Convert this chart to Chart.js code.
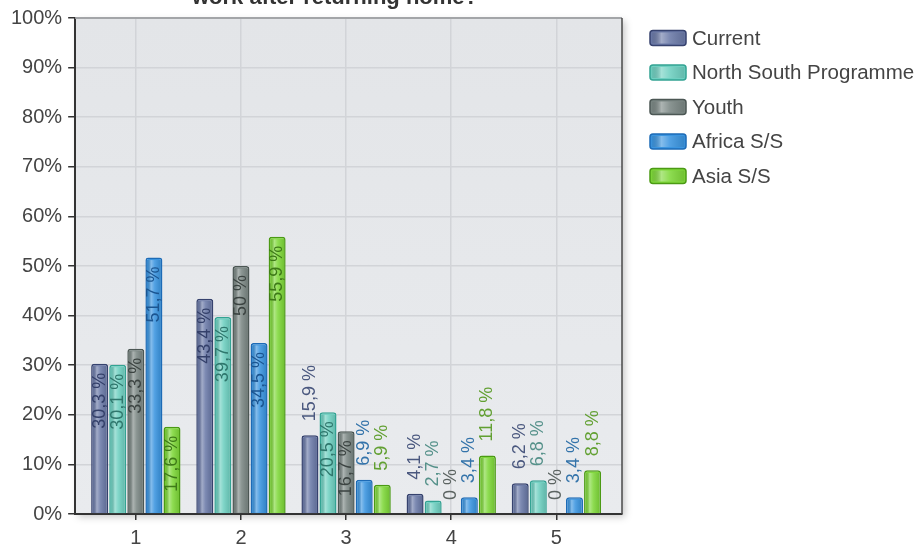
<!DOCTYPE html>
<html>
<head>
<meta charset="utf-8">
<script src="https://cdn.jsdelivr.net/npm/chart.js@4.4.1/dist/chart.umd.min.js"></script>
<style>
  html, body { margin: 0; padding: 0; background: #fff; }
  #wrap { width: 921px; height: 552px; position: relative; }
</style>
</head>
<body>
<div id="wrap"><canvas id="myChart"></canvas></div>
<script>
const categories = [1, 2, 3, 4, 5];
const seriesNames = ["Current", "North South Programme", "Youth", "Africa S/S", "Asia S/S"];
const current = [30.3, 43.4, 15.9, 4.1, 6.2];
const northSouth = [30.1, 39.7, 20.5, 2.7, 6.8];
const youth = [33.3, 50, 16.7, 0, 0];
const africa = [51.7, 34.5, 6.9, 3.4, 3.4];
const asia = [17.6, 55.9, 5.9, 11.8, 8.8];
const titleText = "work after returning home?";

const fills = ["#6b7aa8", "#6fd0c1", "#7b8784", "#3b95e0", "#7fd83a"];
const borders = ["#36426e", "#33a393", "#4c5754", "#1d6bb6", "#4b9a14"];
const labelColors = ["#4a587f", "#55918a", "#5c6462", "#3373aa", "#62a032"];
const insideLabelColors = ["#34406a", "#2f776d", "#3c4442", "#1b5591", "#3e7a18"];

const FONT = "'Liberation Sans', Arial, sans-serif";

function fmt(v) {
    return String(v).replace(".", ",") + " %";
}

// plot background with a soft drop shadow, plus top/right frame lines
const plotFrame = {
    id: "plotFrame",
    beforeDraw(chart) {
        const { ctx, chartArea: a } = chart;
        ctx.save();
        ctx.shadowColor = "rgba(0,0,0,0.22)";
        ctx.shadowBlur = 7;
        ctx.shadowOffsetX = 3;
        ctx.shadowOffsetY = 3;
        const g = ctx.createLinearGradient(0, a.top, 0, a.bottom);
        g.addColorStop(0, "#e3e5e8");
        g.addColorStop(1, "#e9ebee");
        ctx.fillStyle = g;
        ctx.fillRect(a.left, a.top, a.right - a.left, a.bottom - a.top);
        ctx.restore();
    },
    beforeDatasetsDraw(chart) {
        const { ctx, chartArea: a } = chart;
        ctx.save();
        ctx.strokeStyle = "#a3a5a8";
        ctx.lineWidth = 2;
        ctx.beginPath();
        ctx.moveTo(a.left, a.top);
        ctx.lineTo(a.right, a.top);
        ctx.stroke();
        ctx.strokeStyle = "#4a4a4a";
        ctx.lineWidth = 1.5;
        ctx.beginPath();
        ctx.moveTo(a.right, a.top);
        ctx.lineTo(a.right, a.bottom);
        ctx.stroke();
        ctx.restore();
    }
};

function shine(ctx, left, top, w, h) {
    const g = ctx.createLinearGradient(left, 0, left + w, 0);
    g.addColorStop(0, "rgba(0,0,0,0.06)");
    g.addColorStop(0.3, "rgba(255,255,255,0.38)");
    g.addColorStop(0.55, "rgba(255,255,255,0.12)");
    g.addColorStop(1, "rgba(0,0,0,0.10)");
    ctx.fillStyle = g;
    ctx.fillRect(left, top, w, h);
}

// cylinder-like shading on bars and rotated value labels
const barDecor = {
    id: "barDecor",
    afterDatasetsDraw(chart) {
        const { ctx } = chart;
        ctx.save();
        chart.data.datasets.forEach((ds, i) => {
            chart.getDatasetMeta(i).data.forEach((bar, j) => {
                const h = bar.base - bar.y;
                if (h > 4) shine(ctx, bar.x - bar.width / 2 + 1.5, bar.y + 2.5, bar.width - 3, h - 3);
            });
        });
        ctx.font = "18px " + FONT;
        ctx.textBaseline = "middle";
        chart.data.datasets.forEach((ds, i) => {
            chart.getDatasetMeta(i).data.forEach((bar, j) => {
                const txt = fmt(ds.data[j]);
                const tw = ctx.measureText(txt).width;
                const h = bar.base - bar.y;
                ctx.save();
                ctx.translate(bar.x, bar.y);
                ctx.rotate(-Math.PI / 2);
                if (h > tw + 25) {
                    ctx.fillStyle = insideLabelColors[i];
                    ctx.textAlign = "right";
                    ctx.fillText(txt, -9, 0);
                } else {
                    ctx.fillStyle = labelColors[i];
                    ctx.textAlign = "left";
                    ctx.fillText(txt, 14, 0);
                }
                ctx.restore();
            });
        });
        ctx.restore();
    }
};

// legend column and the clipped title line
const sideLegend = {
    id: "sideLegend",
    afterDraw(chart) {
        const { ctx, chartArea: a } = chart;
        ctx.save();
        chart.data.datasets.forEach((ds, i) => {
            const cy = a.top + 20 + i * 34.5;
            const bx = a.right + 28, bw = 36, bh = 15;
            ctx.beginPath();
            ctx.roundRect(bx, cy - bh / 2, bw, bh, 3);
            ctx.fillStyle = fills[i];
            ctx.fill();
            shine(ctx, bx + 1.5, cy - bh / 2 + 2, bw - 3, bh - 4);
            ctx.lineWidth = 1.5;
            ctx.strokeStyle = borders[i];
            ctx.stroke();
            ctx.fillStyle = "#444";
            ctx.font = "20.5px " + FONT;
            ctx.textAlign = "left";
            ctx.textBaseline = "middle";
            ctx.fillText(ds.label, bx + bw + 6, cy + 1);
        });
        ctx.font = "bold 22px " + FONT;
        ctx.textAlign = "center";
        ctx.textBaseline = "alphabetic";
        ctx.fillStyle = "#333";
        ctx.fillText(titleText, 335, 4);
        ctx.restore();
    }
};

const seriesValues = [current, northSouth, youth, africa, asia];

new Chart("myChart", {
    type: "bar",
    data: {
        labels: categories,
        datasets: seriesNames.map((name, i) => ({
            label: name,
            data: seriesValues[i],
            backgroundColor: fills[i],
            borderColor: borders[i],
            borderWidth: (c) => (c.raw === 0 ? 0 : 1.5),
            borderSkipped: "start",
            borderRadius: { topLeft: 3, topRight: 3 },
            categoryPercentage: 0.86,
            barPercentage: 0.94
        }))
    },
    options: {
        responsive: true,
        maintainAspectRatio: false,
        animation: false,
        layout: { padding: { top: 13, left: 5, right: 299, bottom: -4 } },
        plugins: {
            legend: { display: false },
            title: { display: false },
            tooltip: { enabled: false }
        },
        scales: {
            x: {
                type: "linear",
                min: 0.423,
                max: 5.624,
                offset: false,
                afterBuildTicks: (axis) => {
                    axis.ticks = categories.map((v) => ({ value: v }));
                },
                grid: { offset: false, color: "#d2d4d8", lineWidth: 1.5, tickColor: "#333", tickLength: 6 },
                border: { color: "#333", width: 2 },
                ticks: {
                    color: "#444",
                    padding: 8,
                    font: { family: FONT, size: 20, lineHeight: 1 }
                }
            },
            y: {
                min: 0,
                max: 100,
                grid: { color: "#d2d4d8", lineWidth: 1.5, tickColor: "#333", tickLength: 7 },
                border: { color: "#333", width: 2 },
                ticks: {
                    stepSize: 10,
                    color: "#444",
                    padding: 6,
                    font: { family: FONT, size: 20 },
                    callback: (v) => v + "%"
                }
            }
        }
    },
    plugins: [plotFrame, barDecor, sideLegend]
});
</script>
</body>
</html>
